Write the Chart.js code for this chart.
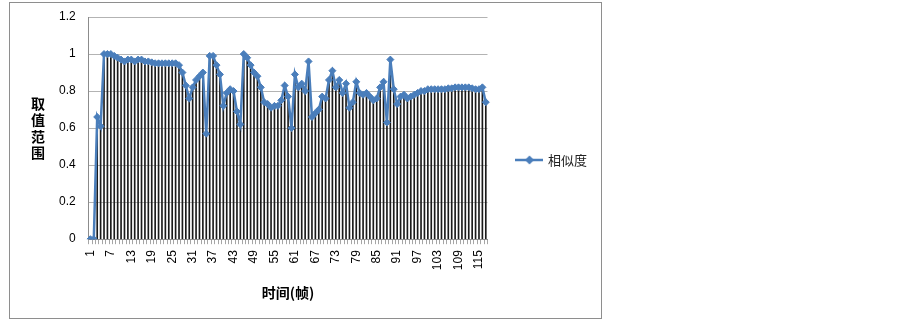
<!DOCTYPE html>
<html lang="zh">
<head>
    <meta charset="UTF-8">
    <title>相似度</title>
    <script src="https://cdn.jsdelivr.net/npm/chart.js"></script>
    <style>
        body { margin: 0; background: #fff; }
        #frame { position: absolute; left: 9px; top: 2px; width: 593px; height: 317px; box-sizing: border-box; border: 1px solid #8e8e8e; }
        #chart { position: absolute; left: 10px; top: 2px; }
    </style>
</head>
<body>
    <div id="frame"></div>
    <canvas id="chart" width="592" height="317"></canvas>

    <script>
        // frame numbers 1..117 on the x axis
        const frames = Array.from({ length: 117 }, (_, i) => String(i + 1));

        const similarity = [
            0, 0, 0.66, 0.61, 1.0, 1.0, 1.0, 0.99, 0.98, 0.97,
            0.96, 0.97, 0.97, 0.96, 0.97, 0.97, 0.96, 0.96, 0.955, 0.95,
            0.95, 0.95, 0.95, 0.95, 0.95, 0.95, 0.94, 0.90, 0.83, 0.76,
            0.82, 0.86, 0.88, 0.90, 0.57, 0.99, 0.99, 0.94, 0.89, 0.72,
            0.79, 0.81, 0.80, 0.69, 0.62, 1.0, 0.98, 0.94, 0.90, 0.88,
            0.82, 0.74, 0.73, 0.71, 0.72, 0.72, 0.75, 0.83, 0.77, 0.60,
            0.89, 0.82, 0.84, 0.80, 0.96, 0.66, 0.68, 0.70, 0.77, 0.76,
            0.86, 0.91, 0.82, 0.86, 0.79, 0.84, 0.71, 0.74, 0.85, 0.79,
            0.78, 0.79, 0.77, 0.75, 0.76, 0.82, 0.85, 0.63, 0.97, 0.81,
            0.73, 0.77, 0.78, 0.76, 0.77, 0.78, 0.79, 0.80, 0.80, 0.81,
            0.81, 0.81, 0.81, 0.81, 0.81, 0.815, 0.815, 0.82, 0.82, 0.82,
            0.82, 0.82, 0.815, 0.81, 0.81, 0.82, 0.74
        ];

        const yTitleChars = ['取', '值', '范', '围'];
        const xTitle = '时间(帧)';
        const seriesName = '相似度';

        const blue = '#4a7ebb';
        const numFont = { family: '"Liberation Sans", "Noto Sans CJK SC"', size: 12 };

        // legend icon: short line with a diamond, like the Excel legend
        const legendIcon = document.createElement('canvas');
        legendIcon.width = 28;
        legendIcon.height = 10;
        const ic = legendIcon.getContext('2d');
        ic.strokeStyle = blue;
        ic.lineWidth = 2.5;
        ic.beginPath();
        ic.moveTo(0, 5);
        ic.lineTo(28, 5);
        ic.stroke();
        ic.fillStyle = blue;
        ic.beginPath();
        ic.moveTo(14, 0.5);
        ic.lineTo(18.5, 5);
        ic.lineTo(14, 9.5);
        ic.lineTo(9.5, 5);
        ic.closePath();
        ic.fill();

        // stacked vertical y title
        const yTitlePlugin = {
            id: 'yTitle',
            afterDraw(chart) {
                const c = chart.ctx;
                const mid = (chart.chartArea.top + chart.chartArea.bottom) / 2;
                c.save();
                c.font = 'bold 14px "Noto Sans CJK SC"';
                c.fillStyle = '#000';
                c.textAlign = 'center';
                c.textBaseline = 'middle';
                yTitleChars.forEach((ch, i) => {
                    c.fillText(ch, 28, mid + (i - 1.5) * 16.5);
                });
                c.restore();
            }
        };

        const ctx = document.getElementById('chart').getContext('2d');
        new Chart(ctx, {
            data: {
                labels: frames,
                datasets: [
                    {
                        type: 'line',
                        label: seriesName,
                        data: similarity,
                        borderColor: blue,
                        backgroundColor: blue,
                        borderWidth: 2.5,
                        pointStyle: 'rectRot',
                        pointRadius: 3.5,
                        pointBackgroundColor: blue,
                        pointBorderColor: blue,
                        pointBorderWidth: 1,
                        tension: 0,
                        order: 0
                    },
                    {
                        // drop lines from each point down to the axis
                        type: 'bar',
                        label: 'drop',
                        data: similarity,
                        backgroundColor: '#1a1a1a',
                        barThickness: 1,
                        order: 1
                    }
                ]
            },
            options: {
                responsive: false,
                animation: false,
                layout: { padding: { left: 42, top: 15, right: 5, bottom: 16 } },
                plugins: {
                    tooltip: { enabled: false },
                    legend: {
                        position: 'right',
                        labels: {
                            filter: item => item.datasetIndex === 0,
                            usePointStyle: true,
                            pointStyle: legendIcon,
                            pointStyleWidth: 24,
                            padding: 30,
                            color: '#222',
                            font: { family: '"Noto Sans CJK SC"', size: 13 }
                        }
                    }
                },
                scales: {
                    x: {
                        offset: true,
                        grid: {
                            display: true,
                            drawOnChartArea: false,
                            tickLength: 5,
                            color: '#a6a6a6',
                            offset: true
                        },
                        border: { color: '#8c8c8c' },
                        ticks: {
                            autoSkip: false,
                            minRotation: 90,
                            maxRotation: 90,
                            padding: 6,
                            color: '#000',
                            font: numFont,
                            callback: function (value, index) {
                                return index % 6 === 0 ? frames[index] : '';
                            }
                        },
                        title: {
                            display: true,
                            text: xTitle,
                            color: '#000',
                            font: { family: '"Noto Sans CJK SC"', size: 14, weight: 'bold' },
                            padding: { top: 8, bottom: 2 }
                        }
                    },
                    y: {
                        min: 0,
                        max: 1.2,
                        grid: { color: '#b3b3b3', tickLength: 6, tickColor: 'rgba(0,0,0,0)' },
                        border: { color: '#8c8c8c' },
                        ticks: {
                            stepSize: 0.2,
                            padding: 7,
                            color: '#000',
                            font: numFont,
                            callback: v => String(Math.round(v * 10) / 10)
                        }
                    }
                }
            },
            plugins: [yTitlePlugin]
        });
    </script>
</body>
</html>
